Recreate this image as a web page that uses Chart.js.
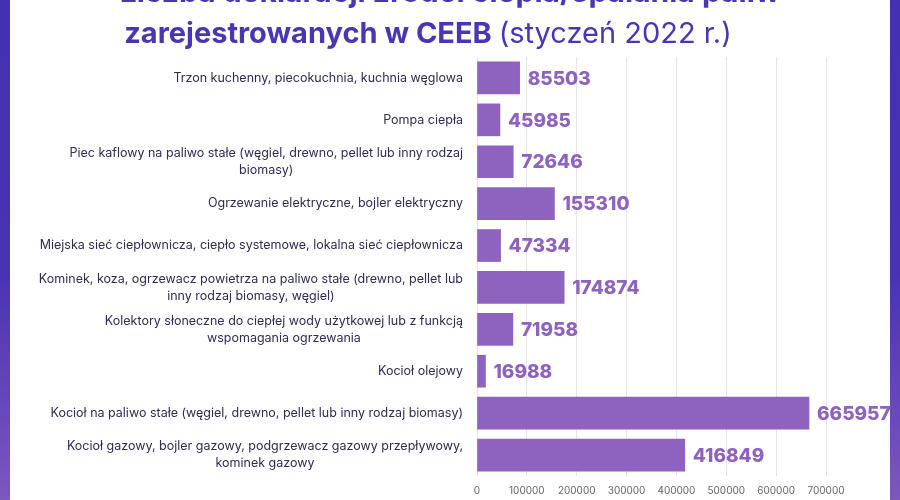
<!DOCTYPE html>
<html><head><meta charset="utf-8">
<script src="https://cdn.jsdelivr.net/npm/chart.js@4"></script>
<style>html,body{margin:0;padding:0;background:#fff}#w{width:900px;height:500px}</style>
</head><body><div id="w"><canvas id="c"></canvas></div>
<script>
const categories = [
  ["Trzon kuchenny, piecokuchnia, kuchnia węglowa"],
  ["Pompa ciepła"],
  ["Piec kaflowy na paliwo stałe (węgiel, drewno, pellet lub inny rodzaj","biomasy)"],
  ["Ogrzewanie elektryczne, bojler elektryczny"],
  ["Miejska sieć ciepłownicza, ciepło systemowe, lokalna sieć ciepłownicza"],
  ["Kominek, koza, ogrzewacz powietrza na paliwo stałe (drewno, pellet lub","inny rodzaj biomasy, węgiel)"],
  ["Kolektory słoneczne do ciepłej wody użytkowej lub z funkcją","wspomagania ogrzewania"],
  ["Kocioł olejowy"],
  ["Kocioł na paliwo stałe (węgiel, drewno, pellet lub inny rodzaj biomasy)"],
  ["Kocioł gazowy, bojler gazowy, podgrzewacz gazowy przepływowy,","kominek gazowy"]
];
const values = [85503, 45985, 72646, 155310, 47334, 174874, 71958, 16988, 665957, 416849];
const xTicks = [0,100000,200000,300000,400000,500000,600000,700000];

const deco = {
  id:'deco',
  beforeDraw(ch){
    const c=ch.ctx;
    c.save();
    c.fillStyle='#fff';c.fillRect(0,0,ch.width,ch.height);
    const g=c.createLinearGradient(0,0,0,ch.height);
    g.addColorStop(0,'#4330b2');g.addColorStop(0.55,'#4a33b3');g.addColorStop(1,'#7c57bf');
    c.fillStyle=g;c.fillRect(0,0,10,ch.height);c.fillRect(890,0,10,ch.height);
    c.textAlign='center';c.textBaseline='alphabetic';c.fillStyle='#4a35b5';
    c.font='bold 30px Inter, sans-serif';
    c.fillText('Liczba deklaracji źródeł ciepła/spalania paliw',450,2);
    const a='zarejestrowanych w CEEB ', b='(styczeń 2022 r.)';
    c.font='bold 29px Inter, sans-serif'; const wa=c.measureText(a).width;
    c.font='29px Inter, sans-serif'; const wb=c.measureText(b).width;
    let x=428-(wa+wb)/2;
    c.textAlign='left';
    c.font='bold 29px Inter, sans-serif';c.fillText(a,x,43);
    c.font='29px Inter, sans-serif';c.fillText(b,x+wa,43);
    c.restore();
  },
  afterDatasetsDraw(ch){
    const c=ch.ctx,m=ch.getDatasetMeta(0);
    c.save();
    c.textBaseline='middle';
    c.font='12.5px Inter, sans-serif';c.fillStyle='#2d2d55';c.textAlign='center';
    m.data.forEach((b,i)=>{
      const lines=categories[i];
      const w=Math.max(...lines.map(l=>c.measureText(l).width));
      const cx=463-w/2, lh=17, y0=b.y-(lines.length-1)*lh/2;
      lines.forEach((l,j)=>c.fillText(l,cx,y0+j*lh));
    });
    c.fillStyle='#8e63c0';c.font='800 19px Inter, sans-serif';c.textAlign='left';
    m.data.forEach((b,i)=>c.fillText(values[i],b.x+8,b.y+1));
    c.restore();
  }
};

new Chart(document.getElementById('c'),{
  type:'bar',
  data:{labels:categories,datasets:[{data:values,backgroundColor:'#8e63c0',barThickness:32}]},
  options:{
    indexAxis:'y',responsive:true,maintainAspectRatio:false,animation:false,
    layout:{padding:{top:57,right:74,bottom:0,left:0}},
    plugins:{legend:{display:false},tooltip:{enabled:false}},
    scales:{
      x:{min:0,max:700000,afterBuildTicks(s){s.ticks=xTicks.map(v=>({value:v}));},
        afterFit(s){s.height=24;},
        grid:{color:'#e4e4e4',drawTicks:false},border:{display:false},
        ticks:{color:'#666',font:{size:10,family:'Inter, sans-serif'},padding:9,callback:v=>String(v)}},
      y:{grid:{display:false},border:{display:false},
        afterFit(s){s.width=477;},
        ticks:{display:false}}
    }
  },
  plugins:[deco]
});
</script></body></html>
